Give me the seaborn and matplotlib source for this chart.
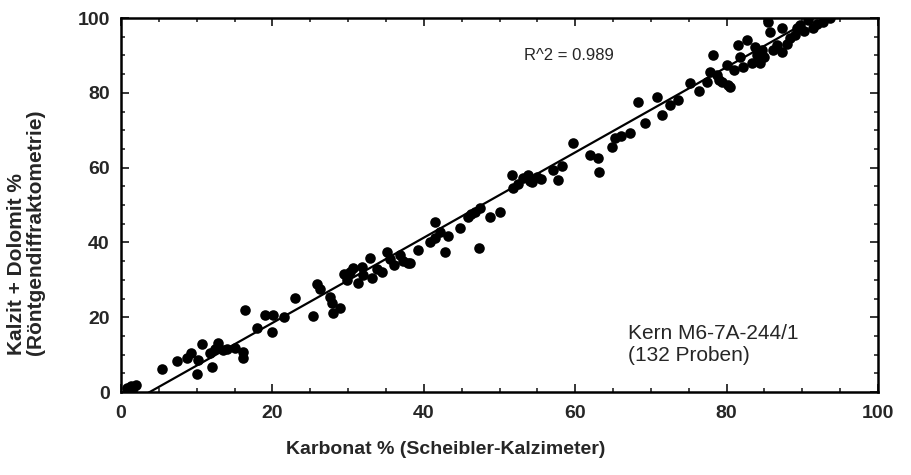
import matplotlib
matplotlib.use("Agg")
import matplotlib.pyplot as plt
import seaborn as sns
import numpy as np
import pandas as pd
from matplotlib.ticker import MultipleLocator

# Data (Karbonat % vs Kalzit + Dolomit %)
karbonat = [
    0.8, 1.3, 2.0, 5.4, 7.4, 8.7, 10.2, 10.0, 10.7, 12.0, 11.8, 12.8, 13.5, 15.1,
    16.1, 16.1, 16.4, 18.0, 19.0, 20.1, 19.9, 23.0, 25.4, 25.9, 27.6, 27.9, 28.9,
    28.0, 29.9, 30.7, 31.3, 32.0, 32.9, 33.2, 34.5, 35.1, 36.0, 36.9, 37.9, 39.2,
    38.2, 41.5, 41.5, 42.1, 42.8, 44.8, 45.8, 46.8, 47.4, 47.3, 48.7, 50.1, 51.6,
    51.8, 53.1, 53.8, 54.3, 54.9, 57.1, 57.7, 59.7, 63.0, 63.1, 64.9, 65.3, 67.2,
    69.2, 68.3, 70.8, 72.5, 73.6, 75.2, 77.4, 77.8, 78.2, 78.7, 79.4, 80.2, 80.1,
    80.5, 81.5, 81.8, 82.7, 83.4, 83.8, 84.7, 84.4, 85.5, 85.7, 86.7, 87.3, 87.3,
    88.4, 89.3, 89.7, 90.8, 91.4, 93.7, 92.7,
    1.6, 9.3, 14.0, 21.5, 26.3, 30.2, 31.8, 33.8, 35.6, 40.8, 43.2, 46.2, 52.4,
    54.0, 55.5, 58.3, 61.9, 66.0, 71.5, 76.3, 79.0, 81.0, 82.2, 84.0, 85.0, 86.1,
    88.0, 89.0, 90.2, 92.0, 12.4, 29.4, 37.2,
]
kalzit_dolomit = [
    1.2, 1.5, 1.8, 6.1, 8.3, 9.1, 8.6, 4.8, 12.8, 6.7, 10.4, 13.1, 11.2, 11.8,
    10.7, 9.1, 21.9, 17.1, 20.6, 20.6, 16.0, 25.1, 20.3, 28.9, 25.4, 23.8, 22.5,
    21.0, 29.9, 33.2, 29.1, 31.3, 35.8, 30.5, 32.1, 37.4, 34.0, 36.6, 34.5, 38.0,
    34.5, 45.5, 41.2, 42.8, 37.4, 43.9, 46.8, 48.1, 49.2, 38.5, 46.8, 48.1, 58.0,
    54.5, 57.2, 58.0, 56.1, 57.5, 59.4, 56.7, 66.6, 62.6, 58.8, 65.5, 67.9, 69.3,
    71.9, 77.5, 78.9, 76.7, 78.1, 82.6, 82.9, 85.6, 90.1, 84.8, 82.9, 82.1, 87.4,
    81.6, 92.8, 89.6, 94.1, 88.0, 92.2, 91.4, 88.0, 98.9, 96.3, 92.8, 97.3, 90.9,
    94.7, 97.3, 98.1, 99.5, 97.3, 100.0, 99.0,
    1.0, 10.5, 11.5, 20.0, 27.5, 32.0, 33.5, 33.0, 35.5, 40.0, 41.8, 47.5, 55.5,
    56.5, 57.0, 60.5, 63.5, 68.5, 74.0, 80.5, 83.5, 86.0, 87.0, 90.0, 89.5, 91.5,
    93.0, 95.5, 96.5, 98.5, 11.5, 31.5, 35.0,
]
# Regression line as drawn in the reference
fit_slope = 1.14
fit_intercept = -4.33
r2_text = "R^2 = 0.989"
x_ticks = [0, 20, 40, 60, 80, 100]
y_ticks = [0, 20, 40, 60, 80, 100]

df = pd.DataFrame({"Karbonat": karbonat, "KalzitDolomit": kalzit_dolomit})
x_line = np.array([0.0, 100.0])
fit_df = pd.DataFrame({"x": x_line, "y": fit_intercept + fit_slope * x_line})

sns.set_style("ticks")
plt.rcParams['font.family'] = ['Liberation Sans', 'DejaVu Sans']

fig = plt.figure(figsize=(9.11, 4.75), dpi=100)
ax = fig.add_axes([0.1328, 0.1747, 0.8310, 0.7874])

sns.lineplot(data=fit_df, x="x", y="y", ax=ax, color="black", linewidth=1.6,
             zorder=2)
sns.scatterplot(data=df, x="Karbonat", y="KalzitDolomit", ax=ax, color="black",
                s=58, edgecolor="black", linewidth=0, zorder=3)

ax.set_xlim(0, 100)
ax.set_ylim(0, 100)
ax.set_xticks(x_ticks)
ax.set_yticks(y_ticks)
ax.xaxis.set_minor_locator(MultipleLocator(5))
ax.yaxis.set_minor_locator(MultipleLocator(5))
ax.tick_params(axis="both", which="major", direction="in", length=6, width=1.3,
               top=True, right=True, labelsize=14)
ax.tick_params(axis="x", which="major", pad=9)
ax.tick_params(axis="y", which="major", pad=8)
ax.tick_params(axis="both", which="minor", direction="in", length=3, width=1.2,
               top=True, right=True)
for sp in ax.spines.values():
    sp.set_linewidth(1.8)
    sp.set_color("black")
for lab in ax.get_xticklabels() + ax.get_yticklabels():
    lab.set_fontweight("bold")

ax.set_xlabel("Karbonat % (Scheibler-Kalzimeter)", fontsize=14, fontweight="bold")
ax.xaxis.set_label_coords(0.429, -0.13)
ax.set_ylabel("")

# two-line y axis title
fig.text(17 / 911, 1 - 355 / 475, "Kalzit + Dolomit %", rotation=90,
         ha="center", va="bottom", fontsize=15, fontweight="bold")
fig.text(36 / 911, 1 - 355 / 475, "(Röntgendiffraktometrie)", rotation=90,
         ha="center", va="bottom", fontsize=15, fontweight="bold")

ax.text(59.2, 90.1, r2_text, fontsize=12, ha="center", va="center")
ax.text(67.0, 12.8, "Kern M6-7A-244/1\n(132 Proben)", fontsize=15, ha="left",
        va="center", linespacing=1.2)

fig.savefig("out.png", dpi=100)
